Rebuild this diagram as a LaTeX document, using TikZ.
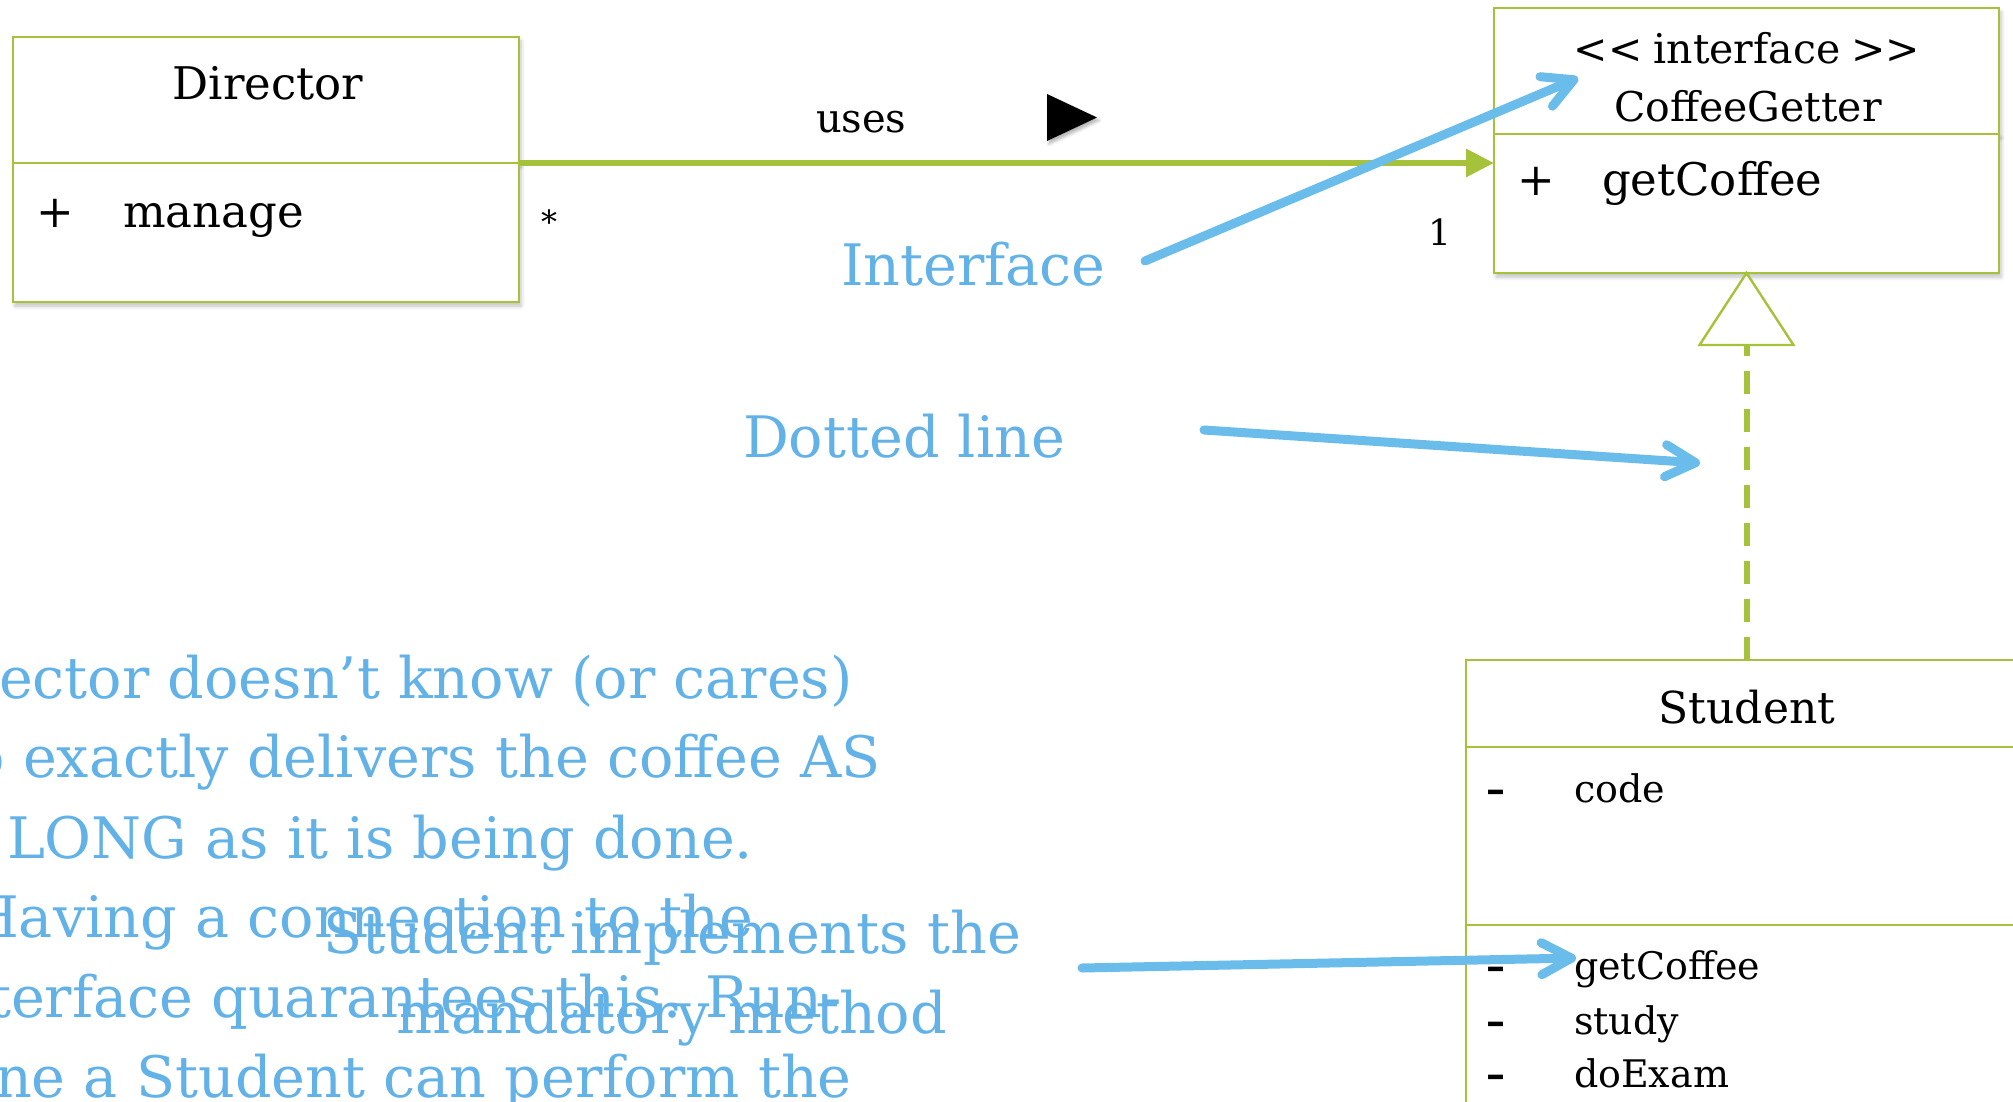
\documentclass[tikz,border=0pt]{standalone}
\usepackage{fontspec}
\setmainfont{DejaVu Serif}
\usetikzlibrary{arrows.meta,shadows.blur,calc}
\definecolor{umlgreen}{RGB}{166,193,58}
\definecolor{noteblue}{RGB}{98,178,232}
\definecolor{arrowblue}{RGB}{106,188,235}
\tikzset{
  umlbox/.style={draw=umlgreen, line width=1.2pt, fill=white, inner sep=0pt,
    outer sep=0pt, anchor=north west,
    blur shadow={shadow xshift=1pt, shadow yshift=-2pt, shadow blur radius=2pt, shadow opacity=25}},
  lbl/.style={inner sep=0pt, outer sep=0pt, text=black},
  note/.style={inner sep=0pt, outer sep=0pt, text=noteblue, anchor=base west,
    font=\fontsize{28.6}{40}\selectfont},
  assoc/.style={draw=umlgreen, line width=3pt,
    -{Triangle[length=14pt, width=13.5pt]}},
  realize/.style={draw=umlgreen, line width=3pt, dash pattern=on 11.5pt off 7.5pt},
  realtip/.style={draw=umlgreen, line width=1.2pt, fill=white, line join=miter},
  pointer/.style={draw=arrowblue, line width=4.5pt, line cap=round,
    -{Straight Barb[length=15pt, width=16pt, line cap=round, line join=round]}},
}
\begin{document}
\begin{tikzpicture}[x=0.5pt, y=-0.5pt]
\useasboundingbox (0,0) rectangle (2013,1102);
\begin{scope}
\clip (0,0) rectangle (2013,1102);

% Director class
\node[umlbox, minimum width=253pt, minimum height=63pt] (dirhead) at (13,37) {};
\node[umlbox, minimum width=253pt, minimum height=69.5pt] (dirbody) at (13,163) {};
\node[lbl, anchor=base, font=\fontsize{22.5}{27}\selectfont] (dirname) at (268,100) {Director};
\node[lbl, anchor=base west, font=\fontsize{22.5}{27}\selectfont] (dirplus) at (36,227) {+};
\node[lbl, anchor=base west, font=\fontsize{22.5}{27}\selectfont] (dirop) at (123,227) {manage};

% CoffeeGetter interface
\node[umlbox, minimum width=252.5pt, minimum height=63pt] (cghead) at (1494,8) {};
\node[umlbox, minimum width=252.5pt, minimum height=69.5pt] (cgbody) at (1494,134) {};
\node[lbl, anchor=base, font=\fontsize{20.5}{25}\selectfont] (cgstereo) at (1747,64) {<{}<\kern-1pt\ interface\ \kern-1pt>{}>};
\node[lbl, anchor=base, font=\fontsize{20.5}{25}\selectfont] (cgname) at (1748,122) {CoffeeGetter};
\node[lbl, anchor=base west, font=\fontsize{22.5}{27}\selectfont] (cgplus) at (1517,195) {+};
\node[lbl, anchor=base west, font=\fontsize{22.5}{27}\selectfont] (cgop) at (1602,195) {getCoffee};

% Student class
\node[umlbox, minimum width=310pt, minimum height=43.5pt] (sthead) at (1466,660) {};
\node[umlbox, minimum width=310pt, minimum height=89pt] (stattr) at (1466,747) {};
\node[umlbox, minimum width=310pt, minimum height=112.5pt] (stops) at (1466,925) {};
\node[lbl, anchor=base, font=\fontsize{22}{26}\selectfont] (stname) at (1747,723) {Student};
\begin{scope}[every node/.style={lbl, anchor=base west, font=\fontsize{19}{23}\selectfont}]
  \node (m1) at (1486,802) {\textbf{–}};  \node (a1) at (1574,802) {code};
  \node (m2) at (1486,979) {\textbf{–}};  \node (o1) at (1574,979) {getCoffee};
  \node (m3) at (1486,1034) {\textbf{–}}; \node (o2) at (1574,1034) {study};
  \node (m4) at (1486,1087) {\textbf{–}}; \node (o3) at (1574,1087) {doExam};
\end{scope}

% association Director -> CoffeeGetter
\draw[assoc] (dirhead.south east) -- (cgbody.west |- dirhead.south east);
\node[lbl, anchor=base west, font=\fontsize{20}{24}\selectfont] (uses) at (816,133) {uses};
\fill[black, blur shadow={shadow xshift=1pt, shadow yshift=-1.5pt, shadow blur radius=1.5pt, shadow opacity=30}]
  (1047,94) -- (1097,117.5) -- (1047,141) -- cycle;
\node[lbl, anchor=center, font=\fontsize{16}{19}\selectfont] (mstar) at (549,222) {*};
\node[lbl, anchor=base, font=\fontsize{18}{21}\selectfont] (mone) at (1440,245) {1};

% realization Student -> CoffeeGetter
\coordinate (tribase) at ($(cgbody.south)+(0,72)$);
\draw[realize] (tribase |- sthead.north) -- (tribase);
\draw[realtip] (cgbody.south) -- ($(tribase)+(-47,0)$) -- ($(tribase)+(47,0)$) -- cycle;

% explanatory notes
\node[note] (iface) at (841,285) {Interface};
\node[note] (dotted) at (743,457) {Dotted line};
\node[note] (t1) at (-1,698) {ector doesn’t know (or cares)};
\node[note] (t2) at (5,777) {\llap{o} exactly delivers the coffee AS};
\node[note] (t3) at (7,858) {LONG as it is being done.};
\node[note] (t4) at (19,937) {\llap{H}aving a connection to the};
\node[note] (t5) at (11,1017) {\llap{t}erface quarantees this. Run-};
\node[note] (t6) at (32,1097) {\llap{n}e a Student can perform the};
\node[note, anchor=base] (impl1) at (672,953) {Student implements the};
\node[note, anchor=base] (impl2) at (672,1033) {mandatory method};

% pointers
\coordinate (ifaceFrom) at (1145,261);
\coordinate (ifaceTo) at (1578,78);
\coordinate (dottedFrom) at (1204,430);
\coordinate (dottedTo) at (1700,463);
\coordinate (implFrom) at (1082,968);
\coordinate (implTo) at (1576,958);
\draw[pointer] (ifaceFrom) -- (ifaceTo);
\draw[pointer] (dottedFrom) -- (dottedTo);
\draw[pointer] (implFrom) -- (implTo);
\end{scope}
\end{tikzpicture}
\end{document}
